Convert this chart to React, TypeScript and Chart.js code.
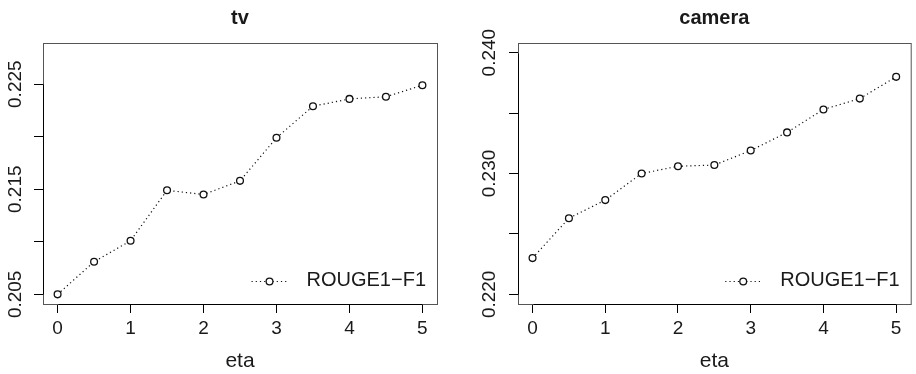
import React, { useEffect, useRef } from "react";
import { Chart, registerables } from "chart.js";

Chart.register(...registerables);

// ---- data ----
const etaValues = [0, 0.5, 1, 1.5, 2, 2.5, 3, 3.5, 4, 4.5, 5];
const tvRouge1F1 = [0.205, 0.2081, 0.2101, 0.2149, 0.2145, 0.2158, 0.2199, 0.2229, 0.2236, 0.2238, 0.2249];
const cameraRouge1F1 = [0.223, 0.2263, 0.2278, 0.23, 0.2306, 0.2307, 0.2319, 0.2334, 0.2353, 0.2362, 0.238];
const xTicks = [0, 1, 2, 3, 4, 5];
const xRange = [-0.2, 5.2];
const tvYTicks = [0.205, 0.21, 0.215, 0.22, 0.225];
const tvYLabels = ["0.205", "", "0.215", "", "0.225"];
const tvYRange = [0.20408, 0.22892];
const cameraYTicks = [0.22, 0.225, 0.23, 0.235, 0.24];
const cameraYLabels = ["0.220", "", "0.230", "", "0.240"];
const cameraYRange = [0.2192, 0.2408];
const panelTitles = ["tv", "camera"];
const seriesName = "ROUGE1\u2212F1";
const xTitle = "eta";

const FONT = "'Liberation Sans', Arial, Helvetica, sans-serif";
const TEXT = "#1a1a1a";

const W = 458;
const H = 374;

type Panel = {
  title: string;
  values: number[];
  yTicks: number[];
  yLabels: string[];
  yRange: number[];
  canvasLeft: number;
  areaLeft: number;
  areaRight: number;
  labelGap: number;
};

const panels: Panel[] = [
  { title: panelTitles[0], values: tvRouge1F1, yTicks: tvYTicks, yLabels: tvYLabels, yRange: tvYRange, canvasLeft: 0, areaLeft: 43, areaRight: 437, labelGap: 27 },
  { title: panelTitles[1], values: cameraRouge1F1, yTicks: cameraYTicks, yLabels: cameraYLabels, yRange: cameraYRange, canvasLeft: 458, areaLeft: 60, areaRight: 454, labelGap: 28.5 },
];

const rPanelPlugin = {
  id: "rPanel",
  afterDraw(chart: any, _args: any, opts: any) {
    const { ctx, chartArea: a, scales } = chart;
    const xs = scales.x;
    const ys = scales.y;
    ctx.save();
    ctx.setLineDash([]);
    // box
    ctx.strokeStyle = "#555";
    ctx.lineWidth = 1;
    ctx.strokeRect(a.left + 0.5, a.top + 0.5, a.right - a.left, a.bottom - a.top);
    // axis lines (first to last tick)
    ctx.strokeStyle = "#000";
    ctx.beginPath();
    ctx.moveTo(Math.round(xs.getPixelForValue(xTicks[0])) + 0.5, a.bottom + 0.5);
    ctx.lineTo(Math.round(xs.getPixelForValue(xTicks[xTicks.length - 1])) + 0.5, a.bottom + 0.5);
    ctx.moveTo(a.left + 0.5, Math.round(ys.getPixelForValue(opts.yTicks[0])) + 0.5);
    ctx.lineTo(a.left + 0.5, Math.round(ys.getPixelForValue(opts.yTicks[opts.yTicks.length - 1])) + 0.5);
    ctx.stroke();
    // y tick labels, rotated like R
    ctx.fillStyle = TEXT;
    ctx.font = `19px ${FONT}`;
    ctx.textAlign = "center";
    ctx.textBaseline = "middle";
    opts.yTicks.forEach((v: number, i: number) => {
      const lab = opts.yLabels[i];
      if (!lab) return;
      const y = ys.getPixelForValue(v);
      ctx.save();
      ctx.translate(a.left - opts.labelGap, y);
      ctx.rotate(-Math.PI / 2);
      ctx.fillText(lab, 0, 0);
      ctx.restore();
    });
    // legend (bottomright, no box)
    ctx.font = `20px ${FONT}`;
    const tw = ctx.measureText(seriesName).width;
    const textRight = a.right - 11;
    const textLeft = textRight - tw;
    const ly = a.bottom - 23.5;
    ctx.textAlign = "left";
    ctx.fillText(seriesName, textLeft, ly);
    const cx = textLeft - 37;
    ctx.strokeStyle = "#111";
    ctx.lineWidth = 1.2;
    ctx.setLineDash([1.2, 3]);
    ctx.beginPath();
    ctx.moveTo(cx - 18, Math.round(ly) + 0.5);
    ctx.lineTo(cx + 18, Math.round(ly) + 0.5);
    ctx.stroke();
    ctx.setLineDash([]);
    ctx.fillStyle = "#fff";
    ctx.strokeStyle = "#111";
    ctx.lineWidth = 1.3;
    ctx.beginPath();
    ctx.arc(cx, Math.round(ly) + 0.5, 3.4, 0, Math.PI * 2);
    ctx.fill();
    ctx.stroke();
    ctx.restore();
  },
};

function PanelChart({ p }: { p: Panel }) {
  const ref = useRef<HTMLCanvasElement | null>(null);
  useEffect(() => {
    if (!ref.current) return;
    Chart.defaults.font.family = FONT;
    Chart.defaults.color = TEXT;
    const chart = new Chart(ref.current, {
      type: "line",
      data: {
        datasets: [
          {
            label: seriesName,
            data: etaValues.map((x, i) => ({ x, y: p.values[i] })),
            borderColor: "#111",
            borderWidth: 1.2,
            borderDash: [1.2, 3],
            tension: 0,
            fill: false,
            pointStyle: "circle",
            pointRadius: 3.4,
            pointBorderWidth: 1.3,
            pointBorderColor: "#111",
            pointBackgroundColor: "#fff",
          },
        ],
      },
      options: {
        animation: false,
        responsive: false,
        devicePixelRatio: 1,
        events: [],
        layout: { padding: { left: 0, top: 0, right: W - p.areaRight, bottom: 0 } },
        plugins: {
          legend: { display: false },
          tooltip: { enabled: false },
          title: {
            display: true,
            text: p.title,
            fullSize: false,
            color: TEXT,
            font: { size: 20, weight: "bold", family: FONT },
            padding: { top: 6, bottom: 13 },
          },
          rPanel: { yTicks: p.yTicks, yLabels: p.yLabels, labelGap: p.labelGap },
        } as any,
        scales: {
          x: {
            type: "linear",
            min: xRange[0],
            max: xRange[1],
            afterBuildTicks: (s: any) => {
              s.ticks = xTicks.map((v) => ({ value: v }));
            },
            afterFit: (s: any) => {
              s.height = H - 304;
            },
            ticks: {
              autoSkip: false,
              maxRotation: 0,
              padding: 4,
              color: TEXT,
              font: { size: 19, family: FONT },
              callback: (v: any) => String(v),
            },
            grid: { drawOnChartArea: false, drawTicks: true, tickLength: 9, tickColor: "#000", lineWidth: 1 },
            border: { display: false },
            title: { display: true, text: xTitle, color: TEXT, font: { size: 21, family: FONT }, padding: { top: 0, bottom: 0 } },
          },
          y: {
            type: "linear",
            min: p.yRange[0],
            max: p.yRange[1],
            afterBuildTicks: (s: any) => {
              s.ticks = p.yTicks.map((v) => ({ value: v }));
            },
            afterFit: (s: any) => {
              s.width = p.areaLeft;
            },
            ticks: { display: false },
            grid: { drawOnChartArea: false, drawTicks: true, tickLength: 9, tickColor: "#000", lineWidth: 1 },
            border: { display: false },
          },
        },
      },
      plugins: [rPanelPlugin],
    } as any);
    return () => chart.destroy();
  }, [p]);
  return (
    <canvas
      ref={ref}
      width={W}
      height={H}
      style={{ position: "absolute", left: p.canvasLeft, top: 0, width: W, height: H, display: "block" }}
    />
  );
}

export default function App() {
  return (
    <div style={{ position: "absolute", left: 0, top: 0, width: 916, height: 374, background: "#fff", overflow: "hidden" }}>
      {panels.map((p) => (
        <PanelChart key={p.title} p={p} />
      ))}
    </div>
  );
}
